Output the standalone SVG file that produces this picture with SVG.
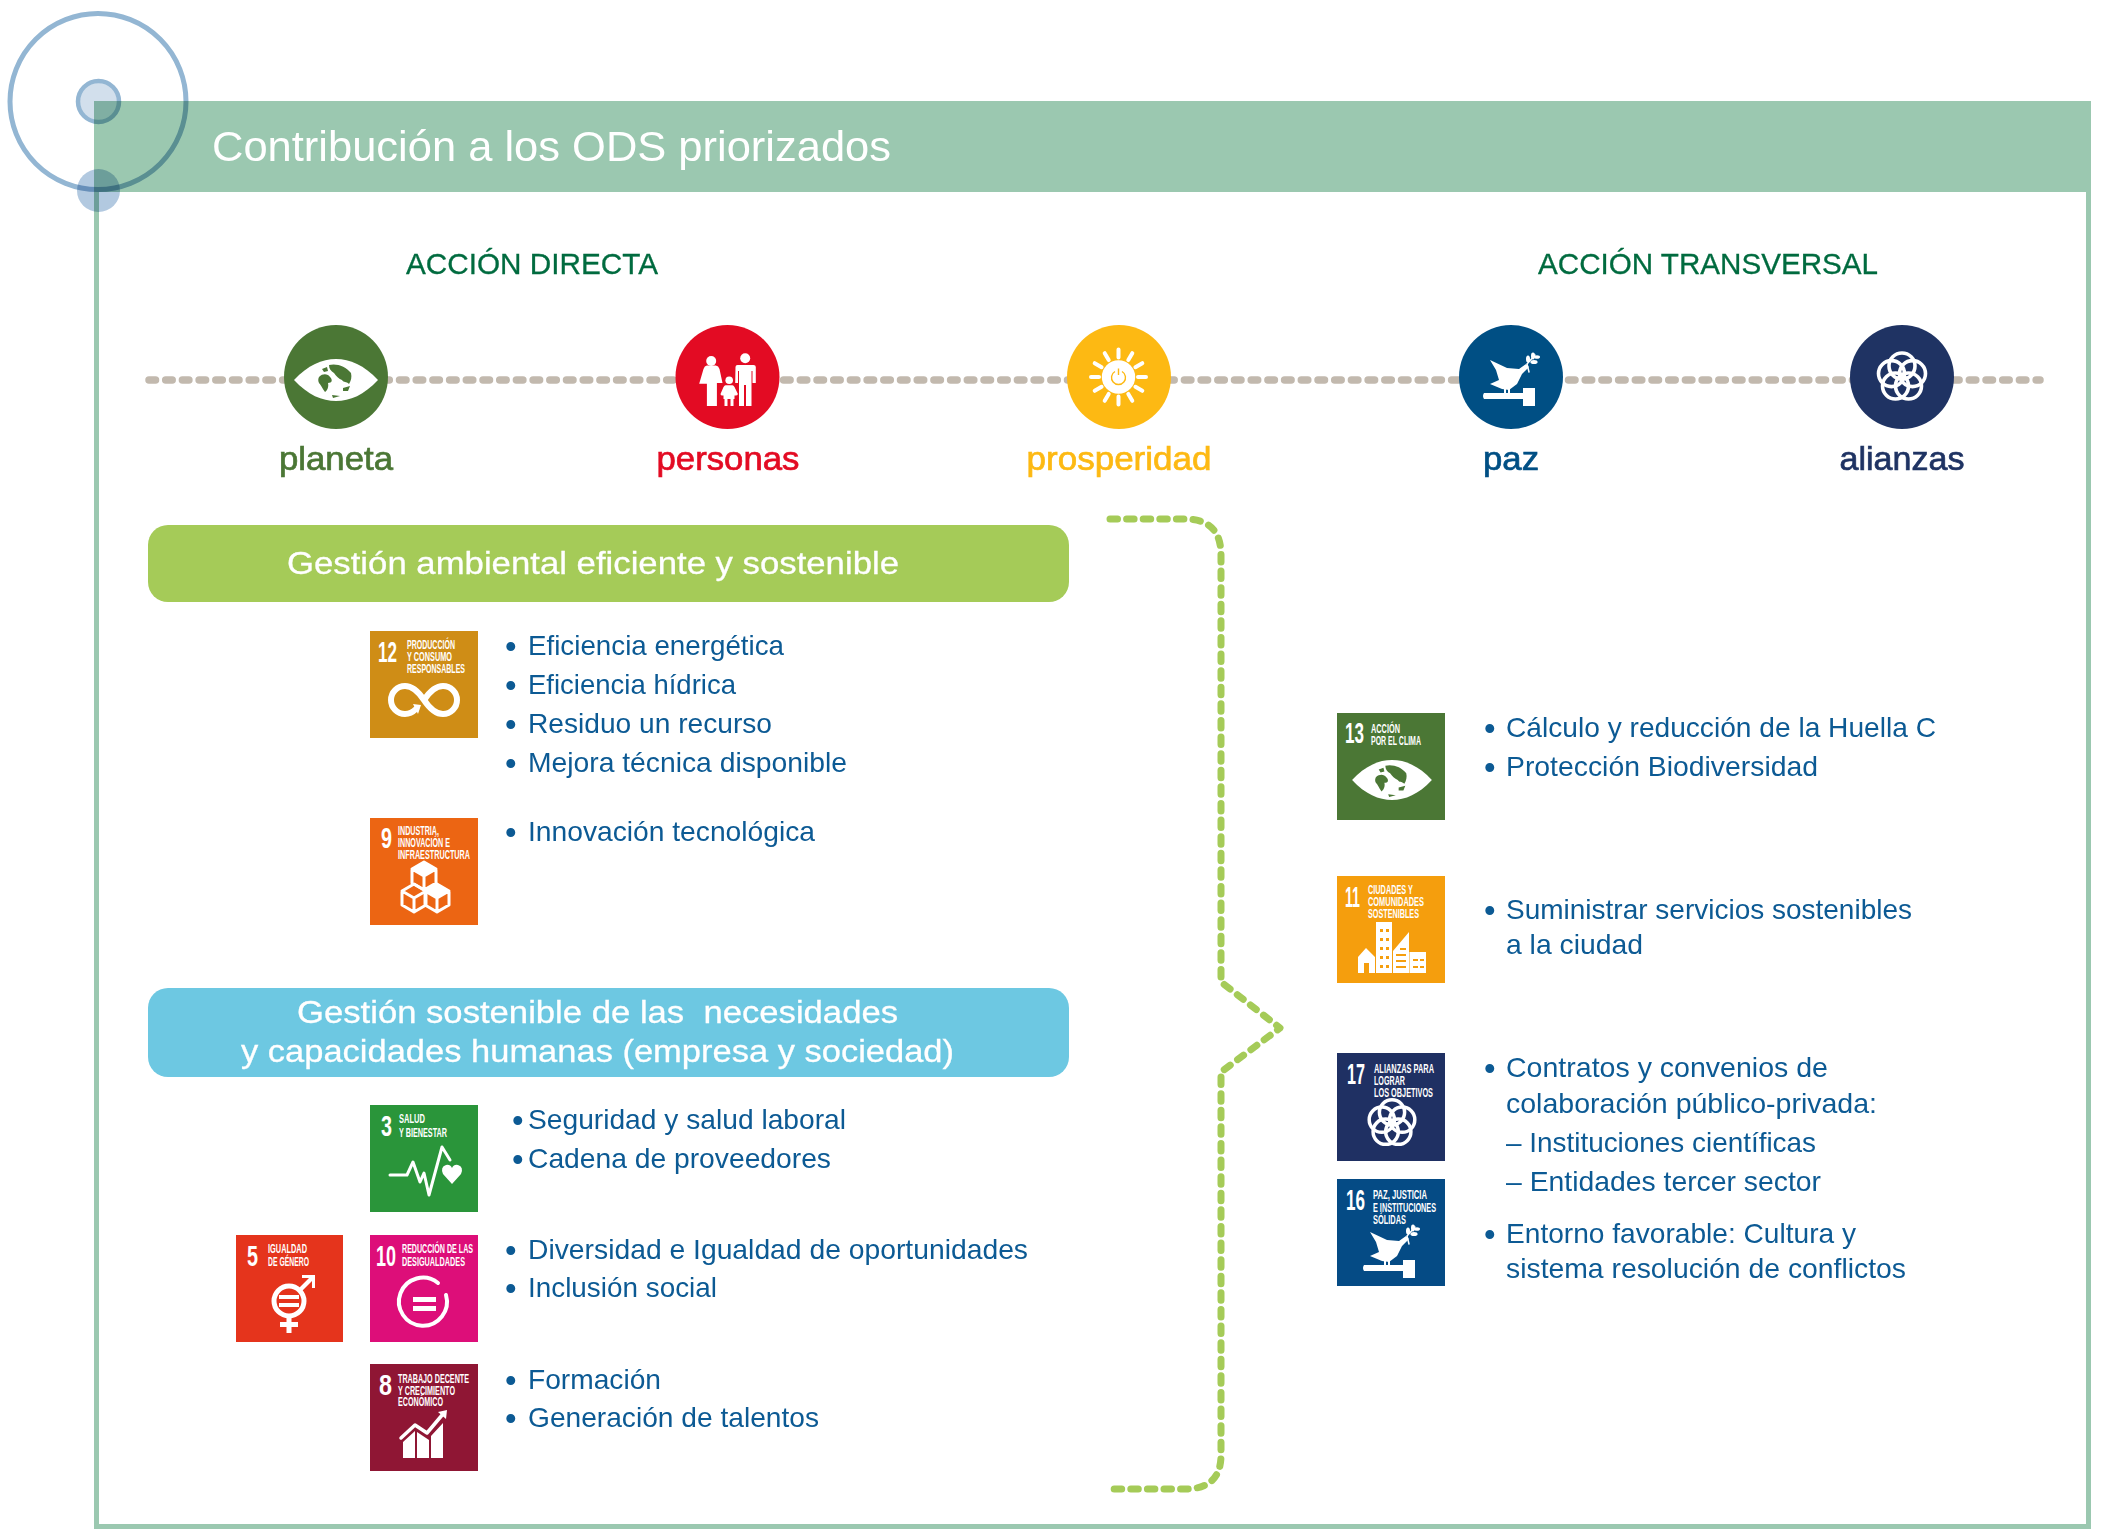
<svg xmlns="http://www.w3.org/2000/svg" xmlns:xlink="http://www.w3.org/1999/xlink" width="2101" height="1540" viewBox="0 0 2101 1540">
<style>
text{font-family:"Liberation Sans",Arial,sans-serif}
.mul{mix-blend-mode:multiply}
.title{font-size:42px;fill:#fff}
.head{font-size:30px;fill:#006b3f;stroke:#006b3f;stroke-width:.3px}
.pill{font-size:34px;text-anchor:middle;stroke-width:.7px}
.bar{font-size:32px;fill:#fff;text-anchor:middle;white-space:pre;stroke:#fff;stroke-width:.3px}
.li{font-size:28.5px;fill:#0c5a94}
.bu{font-size:33px;fill:#0c5a94}
.num{font-size:29px;font-weight:bold;fill:#fff}
.lab{font-size:12px;font-weight:bold;fill:#fff}
.w{fill:#fff}
.ws{fill:none;stroke:#fff;stroke-linecap:round;stroke-linejoin:round}
</style>
<defs>
<g id="rings" fill="none" stroke="#fff" stroke-width="3.6">
<circle cx="0" cy="-11" r="13"/><circle cx="10.5" cy="-3.4" r="13"/><circle cx="6.5" cy="9" r="13"/><circle cx="-6.5" cy="9" r="13"/><circle cx="-10.5" cy="-3.4" r="13"/>
</g>
<g id="eye">
<path class="w" d="M-42,0C-28,-15 -14,-21 0,-21C14,-21 28,-15 42,0C28,15 14,21 0,21C-14,21 -28,15 -42,0Z"/>
<path fill="currentColor" d="M-7,-15C0,-17 10,-14 15,-7C16,-3 15,1 13,4C10,1 8,3 6,0C3,-1 0,-4 -2,-7C-5,-9 -7,-11 -7,-15ZM-17,-3C-13,-7 -8,-6 -6,-3C-3,0 -4,3 -8,3C-7,7 -9,11 -11,12C-14,8 -15,5 -17,3C-18,1 -18,-1 -17,-3ZM-14,-11L-9,-13L-8,-9L-12,-8ZM7,8L14,6L12,11L7,11ZM-4,15L4,16L-3,18Z"/>
</g>
<g id="dove" class="w">
<path d="M-21,-17L-4,-9L8,-8L15,-13L18,-10L11,-3L6,7L-2,13L-9,12L-21,7L-12,3L-15,-7Z"/>
<rect x="-7" y="12" width="2" height="6"/><rect x="-3" y="12" width="2" height="6"/>
<path d="M-27,16L12,16V11H24V29H12V22L-27,22Q-29,19 -27,16Z"/>
<path class="ws" stroke-width="1.5" d="M18,-5L16,-13L24,-22"/>
<ellipse cx="17" cy="-18" rx="2" ry="3.6"/><ellipse cx="23" cy="-15" rx="3.6" ry="2"/><ellipse cx="22" cy="-21" rx="2" ry="3.4"/><ellipse cx="26" cy="-20" rx="3" ry="1.8"/>
</g>
</defs>
<rect width="2101" height="1540" fill="#fff"/>

<g id="header">
<rect x="94" y="101" width="1997" height="91" fill="#9bc8b0"/>
<rect x="96.5" y="103.5" width="1992" height="1423" fill="none" stroke="#9bc8b0" stroke-width="5"/>
<text class="title" x="212" y="161" textLength="679" lengthAdjust="spacingAndGlyphs">Contribución a los ODS priorizados</text>
</g>
<g id="logo">
<circle class="mul" cx="98" cy="101.5" r="88" fill="none" stroke="#93b6d3" stroke-width="5"/>
<circle class="mul" cx="98.5" cy="101.5" r="20.5" fill="#d2dfec" stroke="#93b6d3" stroke-width="4.5"/>
<circle class="mul" cx="98.5" cy="190.5" r="21.5" fill="#b2c9e0"/>
</g>

<g id="connectors" fill="none" stroke-linecap="round">
<path d="M149,380H2040" stroke="#c2b9ae" stroke-width="7.500" stroke-dasharray="6.500 10.200"/>
<path d="M1110,519H1185Q1221,519 1221,555V982L1280,1028L1221,1072V1455Q1221,1489 1185,1489H1109" stroke="#a5cb58" stroke-width="7" stroke-linejoin="round" stroke-dasharray="7.500 9.100"/>
</g>

<g id="accion-directa"><text class="head" x="406" y="273.500" textLength="252" lengthAdjust="spacingAndGlyphs">ACCIÓN DIRECTA</text></g>
<g id="accion-transversal"><text class="head" x="1538" y="273.500" textLength="340" lengthAdjust="spacingAndGlyphs">ACCIÓN TRANSVERSAL</text></g>

<g id="planeta" color="#4b7735">
<circle cx="336" cy="377" r="52" fill="#4b7735"/>
<use xlink:href="#eye" href="#eye" transform="translate(336,380)"/>
<text class="pill" x="336" y="470" fill="#4b7735" stroke="#4b7735" textLength="114" lengthAdjust="spacingAndGlyphs">planeta</text>
</g>
<g id="personas">
<circle cx="727.500" cy="377" r="52" fill="#e30b23"/>
<g class="w" transform="translate(727.500,377)">
<circle cx="-16.300" cy="-16" r="5"/><circle cx="17.700" cy="-18.700" r="5"/><circle cx="1.700" cy="3.300" r="3.800"/>
<path d="M-20.600,-11.400H-11.600Q-9,-11 -8,-8L-5,6H-10.600V29H-20.600V6.700H-28.300L-24,-8Q-23,-11 -20.600,-11.400Z"/>
<path d="M8,-10Q8,-12 10,-12H26Q28.300,-12 28.300,-10V6H25V-6H24V29H18.500V8H16.500V29H11.500V-6H10.500V6H7.700Z"/>
<path d="M-2,8.300H5Q6,8.300 7,10L10.400,17Q10,19 7,18.500V22H6V29H3V22H0V29H-3V22H-4V18.500Q-7,19 -7,17L-4,10Q-3,8.300 -2,8.300Z"/>
</g>
<text class="pill" x="728" y="470" fill="#e30b23" stroke="#e30b23" textLength="143" lengthAdjust="spacingAndGlyphs">personas</text>
</g>
<g id="prosperidad">
<circle cx="1119" cy="377" r="52" fill="#fdb913"/>
<g transform="translate(1118.500,377)">
<g class="ws" stroke-width="4">
<path d="M0,-19.500V-27.500M0,19.500V27.500M-19.500,0H-27.500M19.500,0H27.500M9.800,-16.900L13.800,-23.800M-9.800,-16.900L-13.800,-23.800M9.800,16.900L13.800,23.800M-9.800,16.900L-13.800,23.800M16.900,-9.800L23.800,-13.800M-16.900,-9.800L-23.800,-13.800M16.900,9.800L23.800,13.800M-16.900,9.800L-23.800,13.800"/>
</g>
<circle r="16.700" class="w"/>
<path d="M-3.500,-5.500A7,7 0 1 0 3.500,-5.500M0,-8.500V-2" fill="none" stroke="#fdb913" stroke-width="1.400"/>
</g>
<text class="pill" x="1119" y="470" fill="#fdb913" stroke="#fdb913" textLength="185" lengthAdjust="spacingAndGlyphs">prosperidad</text>
</g>
<g id="paz">
<circle cx="1511" cy="377" r="52" fill="#004f84"/>
<use xlink:href="#dove" href="#dove" transform="translate(1511,377)"/>
<text class="pill" x="1511" y="470" fill="#004f84" stroke="#004f84" textLength="56" lengthAdjust="spacingAndGlyphs">paz</text>
</g>
<g id="alianzas">
<circle cx="1902" cy="377" r="52" fill="#1f3363"/>
<use xlink:href="#rings" href="#rings" transform="translate(1902,377)"/>
<text class="pill" x="1902" y="470" fill="#1f3363" stroke="#1f3363" textLength="125" lengthAdjust="spacingAndGlyphs">alianzas</text>
</g>

<g id="gestion-ambiental">
<rect x="148" y="525" width="921" height="77" rx="20" fill="#a5cb58"/>
<text class="bar" x="593" y="573.500" textLength="612" lengthAdjust="spacingAndGlyphs">Gestión ambiental eficiente y sostenible</text>
</g>
<g id="gestion-sostenible">
<rect x="148" y="988" width="921" height="89" rx="20" fill="#6dc8e2"/>
<text class="bar" x="597.500" y="1023" textLength="601" lengthAdjust="spacingAndGlyphs">Gestión sostenible de las  necesidades</text>
<text class="bar" x="597.500" y="1062" textLength="713" lengthAdjust="spacingAndGlyphs">y capacidades humanas (empresa y sociedad)</text>
</g>

<g id="ods12" transform="translate(370,631)">
<rect width="108" height="107" fill="#cf8d16"/>
<text class="num" x="8" y="31" textLength="19" lengthAdjust="spacingAndGlyphs">12</text>
<text class="lab" x="37" y="18" textLength="48" lengthAdjust="spacingAndGlyphs">PRODUCCIÓN</text>
<text class="lab" x="37" y="30" textLength="45" lengthAdjust="spacingAndGlyphs">Y CONSUMO</text>
<text class="lab" x="37" y="42" textLength="58" lengthAdjust="spacingAndGlyphs">RESPONSABLES</text>
<g transform="translate(54,69)"><path class="ws" stroke-width="6" d="M0,0C6,-9 12,-14 19,-14A14,14 0 0 1 19,14C12,14 6,9 0,0C-6,-9 -12,-14 -19,-14A14,14 0 0 0 -19,14C-14,14 -11,12 -8,9"/><path class="w" d="M-11,4L-3,5L-6,14Z"/></g>
</g>
<g id="ods9" transform="translate(370,818)">
<rect width="108" height="107" fill="#ec6513"/>
<text class="num" x="11" y="30" textLength="11" lengthAdjust="spacingAndGlyphs">9</text>
<text class="lab" x="28" y="17" textLength="41" lengthAdjust="spacingAndGlyphs">INDUSTRIA,</text>
<text class="lab" x="28" y="29" textLength="52" lengthAdjust="spacingAndGlyphs">INNOVACIÓN E</text>
<text class="lab" x="28" y="41" textLength="72" lengthAdjust="spacingAndGlyphs">INFRAESTRUCTURA</text>
<g class="ws" stroke-width="3">
<path d="M54,44L66,51V65L54,72L42,65V51ZM42,51L54,58L66,51M54,58V72"/>
<path d="M44,66L56,73V87L44,94L32,87V73ZM32,73L44,80L56,73M44,80V94"/>
<path d="M67,66L79,73V87L67,94L55,87V73ZM55,73L67,80L79,73M67,80V94"/>
</g>
<path class="w" d="M54,44L66,51L54,58L42,51ZM67,66L79,73L67,80L55,73Z"/>
</g>
<g id="ods3" transform="translate(370,1105)">
<rect width="108" height="107" fill="#2a953a"/>
<text class="num" x="11" y="31" textLength="11" lengthAdjust="spacingAndGlyphs">3</text>
<text class="lab" x="29" y="18" textLength="26" lengthAdjust="spacingAndGlyphs">SALUD</text>
<text class="lab" x="29" y="32" textLength="48" lengthAdjust="spacingAndGlyphs">Y BIENESTAR</text>
<path class="ws" stroke-width="3" d="M20,70H37L43,57L50,77L54,68L59,90L72,42L80,55"/>
<path class="w" d="M82,79L73,69Q70,62 76,60Q80,59 82,63Q84,59 88,60Q94,62 91,69Z"/>
</g>
<g id="ods5" transform="translate(236,1235)">
<rect width="107" height="107" fill="#e5341c"/>
<text class="num" x="11" y="31" textLength="11" lengthAdjust="spacingAndGlyphs">5</text>
<text class="lab" x="32" y="18" textLength="39" lengthAdjust="spacingAndGlyphs">IGUALDAD</text>
<text class="lab" x="32" y="31" textLength="41" lengthAdjust="spacingAndGlyphs">DE GÉNERO</text>
<circle cx="53" cy="66" r="15" fill="none" stroke="#fff" stroke-width="5"/>
<path class="w" d="M43,60H63V64H43ZM43,68H63V72H43ZM50.500,82H55.500V87H62V92H55.500V98H50.500V92H44V87H50.500Z"/>
<path class="w" d="M63,53L73,43H66V40H79V53H76V46L66,56Z"/>
</g>
<g id="ods10" transform="translate(370,1235)">
<rect width="108" height="107" fill="#dd0e79"/>
<text class="num" x="6" y="31" textLength="20" lengthAdjust="spacingAndGlyphs">10</text>
<text class="lab" x="32" y="18" textLength="71" lengthAdjust="spacingAndGlyphs">REDUCCIÓN DE LAS</text>
<text class="lab" x="32" y="31" textLength="63" lengthAdjust="spacingAndGlyphs">DESIGUALDADES</text>
<path d="M68,48A24,24 0 1 0 76,60" fill="none" stroke="#fff" stroke-width="4" stroke-linecap="round"/>
<path class="w" d="M43,62H66V67H43ZM43,71H66V76H43Z"/>
</g>
<g id="ods8" transform="translate(370,1364)">
<rect width="108" height="107" fill="#8f1634"/>
<text class="num" x="9" y="31" textLength="13" lengthAdjust="spacingAndGlyphs">8</text>
<text class="lab" x="28" y="19" textLength="71" lengthAdjust="spacingAndGlyphs">TRABAJO DECENTE</text>
<text class="lab" x="28" y="31" textLength="57" lengthAdjust="spacingAndGlyphs">Y CRECIMIENTO</text>
<text class="lab" x="28" y="42" textLength="45" lengthAdjust="spacingAndGlyphs">ECONÓMICO</text>
<path class="ws" stroke-width="3.500" d="M31,74L45,61L57,69L73,50"/>
<path class="w" d="M68,48L77,46L76,55ZM33,78L45,67V94H33ZM47,68L59,76V94H47ZM61,72L73,59V94H61Z"/>
</g>
<g id="ods13" transform="translate(1337,713)" color="#4b7735">
<rect width="108" height="107" fill="#4b7735"/>
<text class="num" x="8" y="30" textLength="19" lengthAdjust="spacingAndGlyphs">13</text>
<text class="lab" x="34" y="20" textLength="29" lengthAdjust="spacingAndGlyphs">ACCIÓN</text>
<text class="lab" x="34" y="32" textLength="50" lengthAdjust="spacingAndGlyphs">POR EL CLIMA</text>
<use xlink:href="#eye" href="#eye" transform="translate(55,67) scale(.95)"/>
</g>
<g id="ods11" transform="translate(1337,876)">
<rect width="108" height="107" fill="#f59e0d"/>
<text class="num" x="8" y="31" textLength="15" lengthAdjust="spacingAndGlyphs">11</text>
<text class="lab" x="31" y="18" textLength="45" lengthAdjust="spacingAndGlyphs">CIUDADES Y</text>
<text class="lab" x="31" y="30" textLength="56" lengthAdjust="spacingAndGlyphs">COMUNIDADES</text>
<text class="lab" x="31" y="42" textLength="51" lengthAdjust="spacingAndGlyphs">SOSTENIBLES</text>
<path class="w" d="M21,81L29,72L38,81V97H32V87H27V97H21ZM39,46H55V97H39ZM56,75L72,56V97H56ZM72.500,76H89V97H72.500Z"/>
<path fill="#f59e0d" d="M43,53h3v3h-3zM49,53h3v3h-3zM43,62h3v3h-3zM49,62h3v3h-3zM43,71h3v3h-3zM49,71h3v3h-3zM43,80h3v3h-3zM49,80h3v3h-3zM43,89h3v3h-3zM49,89h3v3h-3zM63,72h6v2h-6zM59,78h10v2h-10zM59,84h10v2h-10zM59,90h10v2h-10zM76,83h5v2h-5zM83,83h4v2h-4zM76,90h5v2h-5zM83,90h4v2h-4z"/>
</g>
<g id="ods17" transform="translate(1337,1053)">
<rect width="108" height="108" fill="#1f3063"/>
<text class="num" x="10" y="31" textLength="18" lengthAdjust="spacingAndGlyphs">17</text>
<text class="lab" x="37" y="20" textLength="60" lengthAdjust="spacingAndGlyphs">ALIANZAS PARA</text>
<text class="lab" x="37" y="32" textLength="31" lengthAdjust="spacingAndGlyphs">LOGRAR</text>
<text class="lab" x="37" y="44" textLength="59" lengthAdjust="spacingAndGlyphs">LOS OBJETIVOS</text>
<use xlink:href="#rings" href="#rings" transform="translate(55,70) scale(.97)"/>
</g>
<g id="ods16" transform="translate(1337,1179)">
<rect width="108" height="107" fill="#054b85"/>
<text class="num" x="9" y="31" textLength="19" lengthAdjust="spacingAndGlyphs">16</text>
<text class="lab" x="36" y="20" textLength="54" lengthAdjust="spacingAndGlyphs">PAZ, JUSTICIA</text>
<text class="lab" x="36" y="33" textLength="63" lengthAdjust="spacingAndGlyphs">E INSTITUCIONES</text>
<text class="lab" x="36" y="45" textLength="33" lengthAdjust="spacingAndGlyphs">SÓLIDAS</text>
<use xlink:href="#dove" href="#dove" transform="translate(54,70)"/>
</g>

<g id="lista-ambiental">
<text class="bu" x="505" y="658">•</text><text class="li" x="528" y="655" textLength="256" lengthAdjust="spacingAndGlyphs">Eficiencia energética</text>
<text class="bu" x="505" y="697">•</text><text class="li" x="528" y="694" textLength="208" lengthAdjust="spacingAndGlyphs">Eficiencia hídrica</text>
<text class="bu" x="505" y="736">•</text><text class="li" x="528" y="733" textLength="244" lengthAdjust="spacingAndGlyphs">Residuo un recurso</text>
<text class="bu" x="505" y="775">•</text><text class="li" x="528" y="772" textLength="319" lengthAdjust="spacingAndGlyphs">Mejora técnica disponible</text>
<text class="bu" x="505" y="844">•</text><text class="li" x="528" y="841" textLength="287" lengthAdjust="spacingAndGlyphs">Innovación tecnológica</text>
</g>
<g id="lista-humana">
<text class="bu" x="512" y="1132">•</text><text class="li" x="528" y="1129" textLength="318" lengthAdjust="spacingAndGlyphs">Seguridad y salud laboral</text>
<text class="bu" x="512" y="1171">•</text><text class="li" x="528" y="1168" textLength="303" lengthAdjust="spacingAndGlyphs">Cadena de proveedores</text>
<text class="bu" x="505" y="1262">•</text><text class="li" x="528" y="1259" textLength="500" lengthAdjust="spacingAndGlyphs">Diversidad e Igualdad de oportunidades</text>
<text class="bu" x="505" y="1300">•</text><text class="li" x="528" y="1297" textLength="189" lengthAdjust="spacingAndGlyphs">Inclusión social</text>
<text class="bu" x="505" y="1392">•</text><text class="li" x="528" y="1389" textLength="133" lengthAdjust="spacingAndGlyphs">Formación</text>
<text class="bu" x="505" y="1430">•</text><text class="li" x="528" y="1427" textLength="291" lengthAdjust="spacingAndGlyphs">Generación de talentos</text>
</g>
<g id="lista-transversal">
<text class="bu" x="1484" y="740">•</text><text class="li" x="1506" y="737" textLength="430" lengthAdjust="spacingAndGlyphs">Cálculo y reducción de la Huella C</text>
<text class="bu" x="1484" y="779">•</text><text class="li" x="1506" y="776" textLength="312" lengthAdjust="spacingAndGlyphs">Protección Biodiversidad</text>
<text class="bu" x="1484" y="922">•</text><text class="li" x="1506" y="919" textLength="406" lengthAdjust="spacingAndGlyphs">Suministrar servicios sostenibles</text>
<text class="li" x="1506" y="954" textLength="137" lengthAdjust="spacingAndGlyphs">a la ciudad</text>
<text class="bu" x="1484" y="1080">•</text><text class="li" x="1506" y="1077" textLength="322" lengthAdjust="spacingAndGlyphs">Contratos y convenios de</text>
<text class="li" x="1506" y="1113" textLength="371" lengthAdjust="spacingAndGlyphs">colaboración público-privada:</text>
<text class="li" x="1506" y="1152" textLength="310" lengthAdjust="spacingAndGlyphs">– Instituciones científicas</text>
<text class="li" x="1506" y="1191" textLength="315" lengthAdjust="spacingAndGlyphs">– Entidades tercer sector</text>
<text class="bu" x="1484" y="1246">•</text><text class="li" x="1506" y="1243" textLength="350" lengthAdjust="spacingAndGlyphs">Entorno favorable: Cultura y</text>
<text class="li" x="1506" y="1278" textLength="400" lengthAdjust="spacingAndGlyphs">sistema resolución de conflictos</text>
</g>
</svg>
